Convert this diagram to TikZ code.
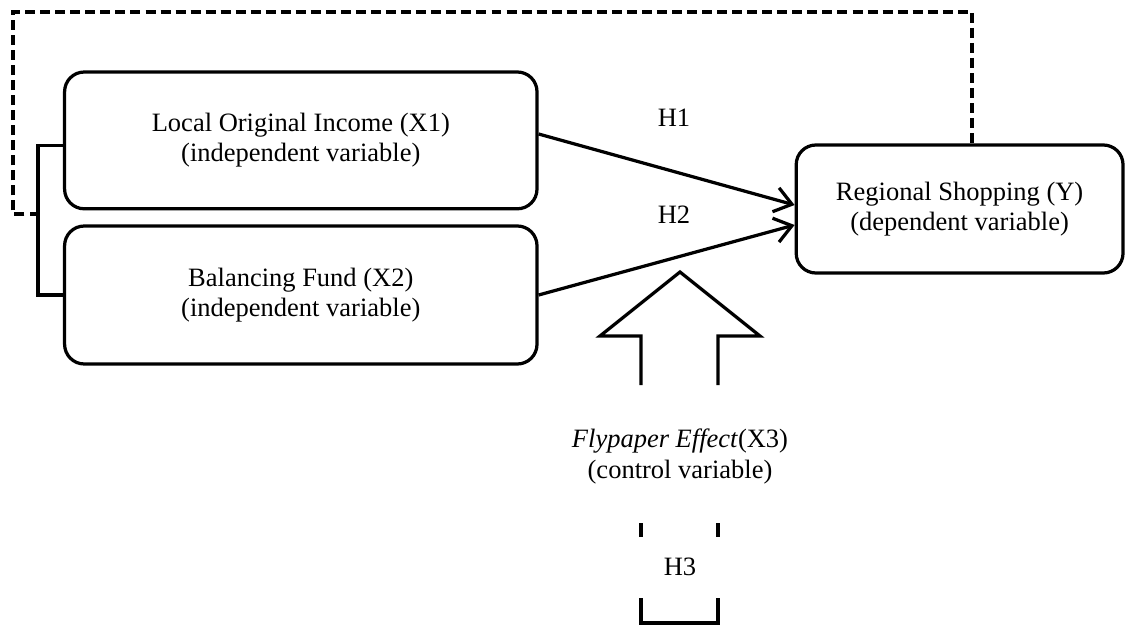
\documentclass[tikz,border=0pt]{standalone}
\usepackage{fontspec}
\setmainfont{Liberation Serif}
\usepackage{tikz}
\usetikzlibrary{arrows.meta,positioning,calc}
\tikzset{
    varbox/.style={
        draw=black,line width=2.3pt,rounded corners=14pt,fill=white,
        align=center,font=\fontsize{18.85}{21.6}\selectfont
    },
    plain/.style={
        align=center,font=\fontsize{18.85}{21.6}\selectfont
    },
    arrow/.style={
        -{Straight Barb[length=4.2mm,width=6.2mm,line width=2.3pt]},line width=2.3pt
    },
    loopline/.style={
        line width=2.3pt,dash pattern=on 7.1pt off 3.6pt
    },
    outline/.style={
        line width=2.3pt,line join=miter
    }
}

\begin{document}
\begin{tikzpicture}
\useasboundingbox (0,0) rectangle (28.125,-15.65);

% variables
\node[varbox,minimum width=11.81cm,minimum height=3.42cm] (x1) at (7.52,-3.51)
{Local Original Income (X1)\\(independent variable)};
\node[varbox,minimum width=11.81cm,minimum height=3.45cm] (x2) at (7.52,-7.375)
{Balancing Fund (X2)\\(independent variable)};
\node[varbox,minimum width=8.17cm,minimum height=3.2cm] (y) at (23.99,-5.225)
{Regional Shopping (Y)\\(dependent variable)};

\node[plain] (h1) at (16.85,-2.95) {H1};
\node[plain] (h2) at (16.85,-5.375) {H2};
\node[plain] (fly) at (17,-11.41) {\textit{Flypaper Effect}(X3)\\(control variable)};
\node[plain] (h3) at (17,-14.175) {H3};

% hypotheses
\draw[arrow] ([yshift=0.16cm]x1.east) -- ([yshift=0.1cm]y.west);
\draw[arrow] (x2.east) -- ([yshift=-0.4cm]y.west);

% bracket and simultaneous path
\draw[line width=2.3pt] ([yshift=-0.12cm]x1.west) -- ++(-0.625,0) |- (x2.west);
\coordinate (fb) at (0.9875,-5.35);
\coordinate (ytop) at (24.3,-0.3);
\draw[loopline] (fb) -- ++(-0.6625,0) |- (ytop) -- (ytop |- y.north);

% control variable arrow
\draw[outline] (16.025,-9.625) -- (16.025,-8.4) -- (15,-8.4) -- (17,-6.8)
  -- (19,-8.4) -- (17.95,-8.4) -- (17.95,-9.625);
\draw[outline] (16.025,-13.075) -- (16.025,-13.425);
\draw[outline] (17.95,-13.075) -- (17.95,-13.425);
\draw[outline] (16.025,-14.95) -- (16.025,-15.575) -- (17.95,-15.575) -- (17.95,-14.95);

\end{tikzpicture}
\end{document}
